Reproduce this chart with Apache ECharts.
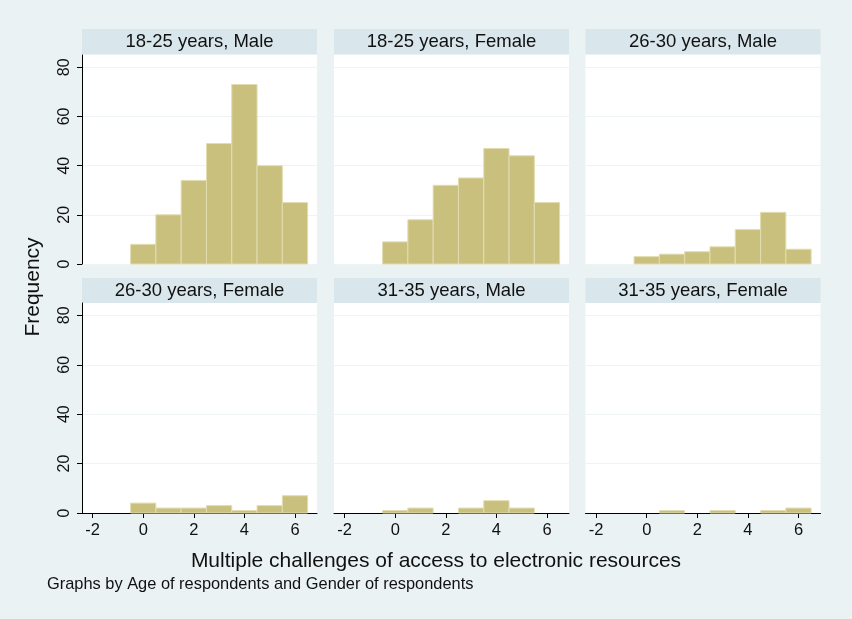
<!DOCTYPE html>
<html>
<head>
<meta charset="utf-8">
<script src="https://cdn.jsdelivr.net/npm/echarts@6/dist/echarts.min.js"></script>
<style>html,body{margin:0;padding:0;background:#eaf2f3;}#c{width:852px;height:619px;}</style>
</head>
<body>
<div id="c"></div>
<script>
const binCenters = [0, 1, 2, 3, 4, 5, 6];
const panelTitles = ['18-25 years, Male', '18-25 years, Female', '26-30 years, Male',
                     '26-30 years, Female', '31-35 years, Male', '31-35 years, Female'];
const male1825   = [8, 20, 34, 49, 73, 40, 25];
const female1825 = [9, 18, 32, 35, 47, 44, 25];
const male2630   = [3, 4, 5, 7, 14, 21, 6];
const female2630 = [4, 2, 2, 3, 1, 3, 7];
const male3135   = [1, 2, 0, 2, 5, 2, 0];
const female3135 = [0, 1, 0, 1, 0, 1, 2];
const xTickLabels = [-2, 0, 2, 4, 6];
const yTickLabels = [0, 20, 40, 60, 80];
const panelValues = [male1825, female1825, male2630, female2630, male3135, female3135];

const FONT = 'Liberation Sans, Arial, sans-serif';
const colLefts = [82, 334, 585.5];
const rowTops = [55, 303];
const rowHeights = [209, 210];
const stripTops = [29, 278];
const W = 235;

const grids = [], xAxes = [], yAxes = [], series = [], graphics = [];
for (let i = 0; i < 6; i++) {
  const r = Math.floor(i / 3), c = i % 3;
  grids.push({left: colLefts[c], top: rowTops[r], width: W, height: rowHeights[r],
              show: true, backgroundColor: '#ffffff', borderWidth: 0, containLabel: false});
  const bottom = r === 1;
  xAxes.push({
    type: 'value', gridIndex: i, min: -2.42, max: 6.87,
    axisLine: {show: bottom, onZero: false, lineStyle: {color: '#000', width: 1}},
    axisTick: {show: bottom, customValues: xTickLabels, length: 5, lineStyle: {color: '#000'}},
    axisLabel: {show: bottom, customValues: xTickLabels, color: '#111', fontSize: 16.5,
                fontFamily: FONT, margin: 9},
    splitLine: {show: false}
  });
  const left = c === 0;
  yAxes.push({
    type: 'value', gridIndex: i, min: 0, max: 85, interval: 20,
    axisLine: {show: left, onZero: false, lineStyle: {color: '#000', width: 1}},
    axisTick: {show: left, customValues: yTickLabels, length: 5, lineStyle: {color: '#000'}},
    axisLabel: {show: left, customValues: yTickLabels, rotate: 90, color: '#111', fontSize: 16,
                fontFamily: FONT, margin: 9},
    splitLine: {show: true, lineStyle: {color: '#eef3f5', width: 1}}
  });
  const vals = panelValues[i];
  series.push({
    type: 'custom', xAxisIndex: i, yAxisIndex: i,
    data: binCenters.map((x, k) => [x, vals[k]]).filter(d => d[1] > 0),
    renderItem: function (params, api) {
      const x = api.value(0), y = api.value(1);
      const p1 = api.coord([x - 0.5, y]);
      const p2 = api.coord([x + 0.5, 0]);
      return {type: 'rect', shape: {x: p1[0], y: p1[1], width: p2[0] - p1[0], height: p2[1] - p1[1]},
              style: {fill: '#c9c07e', stroke: '#e3dcb2', lineWidth: 1}};
    }
  });
  graphics.push({type: 'rect', left: colLefts[c], top: stripTops[r],
                 shape: {width: W, height: 25}, style: {fill: '#d9e6ec'}, silent: true});
  graphics.push({type: 'text', x: colLefts[c] + W / 2, y: stripTops[r] + 13,
                 style: {text: panelTitles[i], fill: '#111', font: '18.5px ' + FONT,
                         textAlign: 'center', textVerticalAlign: 'middle'}});
}
graphics.push({type: 'text', x: 33, y: 287, rotation: Math.PI / 2,
               style: {text: 'Frequency', fill: '#111', font: '21px ' + FONT,
                       textAlign: 'center', textVerticalAlign: 'middle'}});
graphics.push({type: 'text', x: 436, y: 561,
               style: {text: 'Multiple challenges of access to electronic resources', fill: '#111',
                       font: '21px ' + FONT, textAlign: 'center', textVerticalAlign: 'middle'}});
graphics.push({type: 'text', x: 47, y: 584,
               style: {text: 'Graphs by Age of respondents and Gender of respondents', fill: '#111',
                       font: '16.4px ' + FONT, textAlign: 'left', textVerticalAlign: 'middle'}});

const chart = echarts.init(document.getElementById('c'), null, {renderer: 'canvas'});
chart.setOption({
  backgroundColor: '#eaf2f3',
  animation: false,
  grid: grids, xAxis: xAxes, yAxis: yAxes, series: series, graphic: graphics
});
</script>
</body>
</html>
